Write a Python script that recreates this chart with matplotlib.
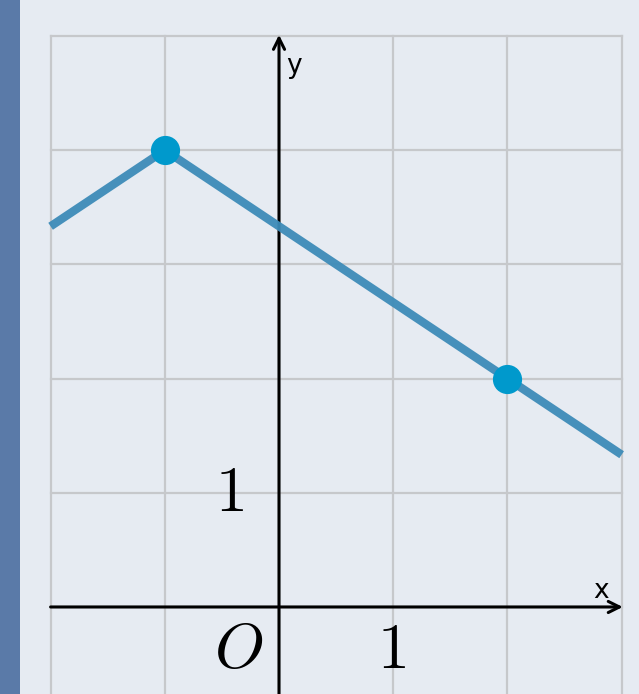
import numpy as np
import matplotlib
matplotlib.use("Agg")
import matplotlib.pyplot as plt
from matplotlib.patches import Rectangle

# y = 4 - 2/3 * |x + 1|, sampled at its corner and the ends of the view
line_x = [-2, -1, 3]
line_y = [10 / 3, 4, 4 / 3]
pts_x = [-1, 2]
pts_y = [4, 2]
grid_x = [-2, -1, 0, 1, 2, 3]
grid_y = [0, 1, 2, 3, 4, 5]

plt.rcParams['mathtext.fontset'] = 'cm'

fig = plt.figure(figsize=(6.39, 6.94), dpi=100)
fig.patch.set_facecolor('#e6ebf2')
fig.patches.append(Rectangle((0, 0), 20 / 639, 1, transform=fig.transFigure,
                             facecolor='#5a7aa8', edgecolor='none'))

ax = fig.add_axes([0, 0, 1, 1])
ax.set_facecolor('none')
ax.set_xlim(-2.443, 3.152)
ax.set_ylim(-0.762, 5.315)
ax.axis('off')

ybot = -0.762
for gx in grid_x:
    ax.plot([gx, gx], [ybot, 5], color='#c6c8cb', lw=1.6, zorder=1)
for gy in grid_y:
    ax.plot([-2, 3], [gy, gy], color='#c6c8cb', lw=1.6, zorder=1)

# axes with arrow heads
ax.annotate('', xy=(3.01, 0), xytext=(-2, 0),
            arrowprops=dict(arrowstyle='->', color='black', lw=2.2,
                            mutation_scale=20, shrinkA=0, shrinkB=0), zorder=3)
ax.annotate('', xy=(0, 5.01), xytext=(0, ybot),
            arrowprops=dict(arrowstyle='->', color='black', lw=2.2,
                            mutation_scale=20, shrinkA=0, shrinkB=0), zorder=3)

ax.plot(line_x, line_y, color='#3d8bb8', lw=6, alpha=0.95, zorder=4,
        solid_capstyle='butt')
ax.plot(pts_x, pts_y, 'o', color='#0099cc', ms=20, zorder=5)

ax.text(2.82, 0.03, 'x', fontsize=19, ha='center', va='bottom', color='black')
ax.text(0.06, 4.62, 'y', fontsize=19, ha='left', va='bottom', color='black')
ax.text(-0.43, 1.0, '$1$', fontsize=46, ha='center', va='center')
ax.text(-0.35, -0.38, '$O$', fontsize=46, ha='center', va='center')
ax.text(0.98, -0.38, '$1$', fontsize=46, ha='center', va='center')

fig.savefig('out.png', dpi=100, facecolor=fig.get_facecolor())
